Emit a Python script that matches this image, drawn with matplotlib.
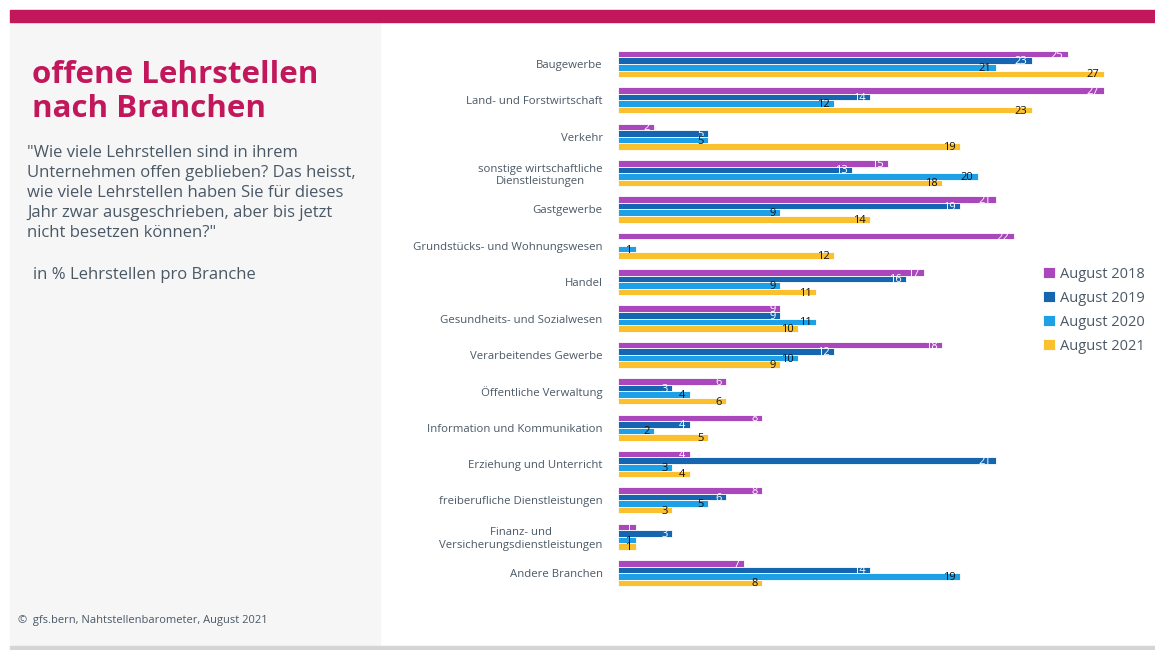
import numpy as np
import matplotlib.pyplot as plt
from matplotlib.patches import Rectangle

plt.rcParams['font.family'] = ['Open Sans', 'DejaVu Sans']

categories = [
    "Baugewerbe",
    "Land- und Forstwirtschaft",
    "Verkehr",
    "sonstige wirtschaftliche\nDienstleistungen",
    "Gastgewerbe",
    "Grundstücks- und Wohnungswesen",
    "Handel",
    "Gesundheits- und Sozialwesen",
    "Verarbeitendes Gewerbe",
    "Öffentliche Verwaltung",
    "Information und Kommunikation",
    "Erziehung und Unterricht",
    "freiberufliche Dienstleistungen",
    "Finanz- und\nVersicherungsdienstleistungen",
    "Andere Branchen",
]
series = ["August 2018", "August 2019", "August 2020", "August 2021"]
aug2018 = [25, 27, 2, 15, 21, 22, 17, 9, 18, 6, 8, 4, 8, 1, 7]
aug2019 = [23, 14, 5, 13, 19, np.nan, 16, 9, 12, 3, 4, 21, 6, 3, 14]
aug2020 = [21, 12, 5, 20, 9, 1, 9, 11, 10, 4, 2, 3, 5, 1, 19]
aug2021 = [27, 23, 19, 18, 14, 12, 11, 10, 9, 6, 5, 4, 3, 1, 8]

colors = ["#AB47BC", "#1565B0", "#1EA0E6", "#FBC02D"]
label_colors = ["white", "white", "#111111", "#111111"]

W, H = 1155, 650
fig = plt.figure(figsize=(W / 100, H / 100), dpi=100)


def fx(px):
    return px / W


def fy(py):
    return 1 - py / H


# background decorations
fig.patches.append(Rectangle((fx(10), fy(650)), fx(370), fy(22) - fy(650),
                             transform=fig.transFigure, color="#F6F6F6", zorder=0))
fig.patches.append(Rectangle((fx(10), fy(22)), fx(1145), fy(10) - fy(22),
                             transform=fig.transFigure, color="#C2185B", zorder=0))
fig.patches.append(Rectangle((fx(10), fy(650)), fx(1145), fy(646) - fy(650),
                             transform=fig.transFigure, color="#D5D5D5", zorder=0))

# left panel text
title_color = "#C2185B"
grey = "#4A5866"
fig.text(fx(32), fy(92), "offene Lehrstellen\nnach Branchen", fontsize=22.5, fontweight="bold",
         color=title_color, va="center", ha="left", linespacing=1.2)
question = ('"Wie viele Lehrstellen sind in ihrem\nUnternehmen offen geblieben? Das heisst,\n'
            'wie viele Lehrstellen haben Sie für dieses\nJahr zwar ausgeschrieben, aber bis jetzt\n'
            'nicht besetzen können?"')
fig.text(fx(27), fy(193), question, fontsize=12, color=grey, va="center", ha="left",
         linespacing=1.33)
fig.text(fx(33), fy(275), "in % Lehrstellen pro Branche", fontsize=12, color=grey,
         va="center", ha="left")
fig.text(fx(18), fy(620), "©  gfs.bern, Nahtstellenbarometer, August 2021", fontsize=8,
         color=grey, va="center", ha="left")

# chart
ax = fig.add_axes([fx(618), fy(592), fx(1122) - fx(618), fy(44) - fy(592)])
n = len(categories)
y = np.arange(n)
h = 0.18
offsets = [-1.5 * h, -0.5 * h, 0.5 * h, 1.5 * h]
data = [aug2018, aug2019, aug2020, aug2021]

for k in range(4):
    vals = np.array(data[k], dtype=float)
    ax.barh(y + offsets[k], vals, height=h, color=colors[k], edgecolor="white",
            linewidth=0.6, label=series[k])
    for i, v in enumerate(vals):
        if np.isnan(v):
            continue
        ax.text(v - 0.25, y[i] + offsets[k] + 0.03, f"{int(v)}", ha="right", va="center",
                fontsize=8, color=label_colors[k])

ax.set_xlim(0, 28)
ax.set_ylim(n - 1 + 0.52, -0.55)
ax.set_yticks(y)
ax.set_yticklabels(categories, multialignment="center")
ax.tick_params(axis="y", length=0, pad=11, labelsize=8.2, labelcolor=grey)
ax.set_xticks([])
for s in ax.spines.values():
    s.set_visible(False)

leg = fig.legend(loc="upper left", bbox_to_anchor=(fx(1037), fy(261)), frameon=False,
                 fontsize=10.5, labelcolor=grey, handlelength=0.8, handleheight=0.8,
                 handletextpad=0.35, labelspacing=0.62, borderaxespad=0)

fig.savefig("out.png", dpi=100)
